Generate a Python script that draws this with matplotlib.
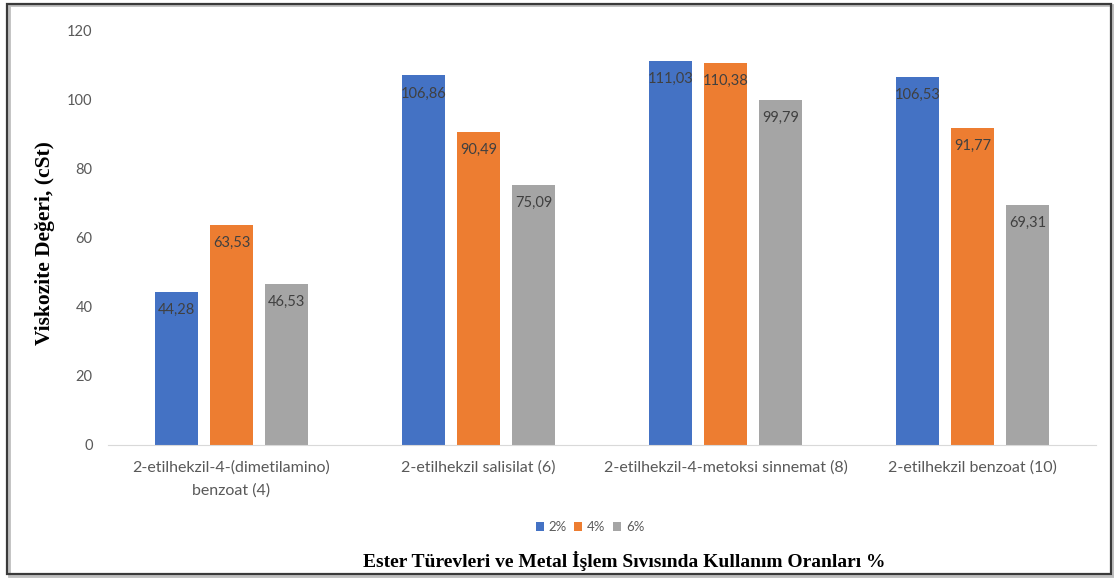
import matplotlib
matplotlib.use("Agg")
import matplotlib.pyplot as plt
from matplotlib.patches import Rectangle
import numpy as np

categories = ["2-etilhekzil-4-(dimetilamino)\nbenzoat (4)",
              "2-etilhekzil salisilat (6)",
              "2-etilhekzil-4-metoksi sinnemat (8)",
              "2-etilhekzil benzoat (10)"]
series_names = ["2%", "4%", "6%"]
values_2 = [44.28, 106.86, 111.03, 106.53]
values_4 = [63.53, 90.49, 110.38, 91.77]
values_6 = [46.53, 75.09, 99.79, 69.31]
yticks = [0, 20, 40, 60, 80, 100, 120]

colors = ["#4472C4", "#ED7D31", "#A5A5A5"]
label_font = "Lato"
serif_font = "Liberation Serif"

W, H = 1114, 578
fig = plt.figure(figsize=(W / 100, H / 100), dpi=100)

# axes placement in pixels
x0, x1 = 108, 1096
y0, y1 = 445, 30
ax = fig.add_axes([x0 / W, 1 - y0 / H, (x1 - x0) / W, (y0 - y1) / H])

x = np.arange(len(categories))
step = 0.2227
width = 0.174
for i, (name, vals) in enumerate(zip(series_names, [values_2, values_4, values_6])):
    bars = ax.bar(x + (i - 1) * step, vals, width, color=colors[i], label=name)
    for b, v in zip(bars, vals):
        ax.annotate(f"{v:.2f}".replace(".", ","),
                    (b.get_x() + b.get_width() / 2, v),
                    xytext=(0, -13), textcoords="offset points",
                    ha="center", va="center", fontsize=10.5,
                    color="#404040", family=label_font)

ax.set_xlim(-0.5, len(categories) - 0.5)
ax.set_ylim(0, 120)
ax.set_yticks(yticks)
ax.set_yticklabels([str(t) for t in yticks], family=label_font, fontsize=10.5, color="#595959")
ax.set_xticks(x)
ax.set_xticklabels(categories, family=label_font, fontsize=11.5, color="#595959", linespacing=1.75)
ax.tick_params(axis="both", length=0)
ax.tick_params(axis="y", pad=11)
ax.tick_params(axis="x", pad=11)
for s in ["top", "right", "left"]:
    ax.spines[s].set_visible(False)
ax.spines["bottom"].set_color("#D9D9D9")

fig.text(45 / W, 1 - 243 / H, "Viskozite Değeri, (cSt)", rotation=90,
         ha="center", va="center", family=serif_font, fontweight="bold", fontsize=15.5)
fig.text(624 / W, 1 - 561 / H, "Ester Türevleri ve Metal İşlem Sıvısında Kullanım Oranları %",
         ha="center", va="center", family=serif_font, fontweight="bold", fontsize=14)

leg = fig.legend(loc="center", bbox_to_anchor=(590 / W, 1 - 527 / H), ncol=3, frameon=False,
                 prop={"family": label_font, "size": 9.5}, handlelength=0.6, handleheight=0.7,
                 handletextpad=0.35, columnspacing=0.6)
for t in leg.get_texts():
    t.set_color("#595959")

# outer frame with soft shadow
fig.add_artist(Rectangle((8.5 / W, 1 - 576 / H), 1104 / W, 571 / H, transform=fig.transFigure,
                         fill=False, edgecolor="#BFBFBF", linewidth=2))
fig.add_artist(Rectangle((7 / W, 1 - 574 / H), 1104 / W, 570 / H, transform=fig.transFigure,
                         fill=False, edgecolor="#3A3A3A", linewidth=1.6))

fig.savefig("out.png", dpi=100)
